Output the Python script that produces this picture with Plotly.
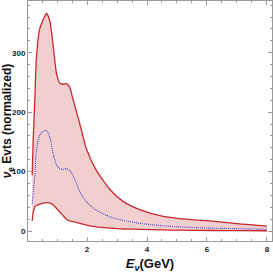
import plotly.graph_objects as go

energy = [0.17, 0.2, 0.26, 0.31, 0.42, 0.54, 0.65, 0.76, 0.87, 0.98, 1.09, 1.2, 1.31, 1.42, 1.53,
          1.76, 1.98, 2.31, 2.76, 3.2, 3.76, 4.5, 5.09, 6.09, 7.09, 8.0]
upper = [94, 150, 225, 290, 340, 356, 366, 353, 312, 265, 249, 247, 248, 242, 222,
         180, 138, 102, 70, 50, 36, 25, 21, 17, 12, 8.4]
lower = [17, 30, 41, 43, 45, 47, 48, 47, 44, 38, 32, 26, 20, 17, 16,
         13, 10, 7, 5, 3.5, 3, 2, 1.5, 1, 0.8, 0.5]
central = [46, 63, 95, 136, 161, 168, 169, 158, 130, 111, 105, 104, 105, 102, 94,
           66, 49, 35, 24, 18, 13, 9, 7, 5, 4, 3]

red = "#c22a2e"
fig = go.Figure()
fig.add_trace(go.Scatter(x=energy, y=lower, mode="lines",
                         line=dict(color=red, width=1.3, shape="spline", smoothing=0.6),
                         showlegend=False))
fig.add_trace(go.Scatter(x=energy, y=upper, mode="lines", fill="tonexty",
                         fillcolor="rgba(222,130,130,0.38)",
                         line=dict(color=red, width=1.3, shape="spline", smoothing=0.6),
                         showlegend=False))
fig.add_trace(go.Scatter(x=energy, y=central, mode="lines",
                         line=dict(color="#4040d0", width=1.1, dash="1px,1px", shape="spline", smoothing=0.6),
                         showlegend=False))

axis_common = dict(showline=True, linecolor="#9a9a9a", linewidth=1, mirror="ticks",
                   ticks="inside", tickcolor="#9a9a9a", ticklen=4, showgrid=False, zeroline=False,
                   tickfont=dict(family="Liberation Sans", size=8, color="#222222", weight="bold"))
fig.update_xaxes(range=[0.03, 8.17], tickvals=[2, 4, 6, 8],
                 minor=dict(ticks="inside", dtick=0.5, ticklen=2, tickcolor="#9a9a9a"),
                 title=dict(text="<i>E</i><sub><i>ν</i></sub>(GeV)", standoff=6,
                            font=dict(family="Liberation Sans", size=13, color="#111111", weight="bold")),
                 **axis_common)
fig.update_yaxes(range=[-16.7, 387], tickvals=[0, 100, 200, 300],
                 minor=dict(ticks="inside", dtick=20, ticklen=2, tickcolor="#9a9a9a"),
                 title=dict(text="<i>ν</i><sub>e</sub> Evts (normalized)", standoff=4,
                            font=dict(family="Liberation Sans", size=12, color="#111111", weight="bold")),
                 **axis_common)
fig.update_layout(width=273, height=273, margin=dict(l=28, r=1, t=1, b=32, autoexpand=False),
                  plot_bgcolor="white", paper_bgcolor="white")
fig.write_html("out.html", config={"displayModeBar": False},
               post_script="document.body.style.margin='0';document.body.style.overflow='hidden';")
